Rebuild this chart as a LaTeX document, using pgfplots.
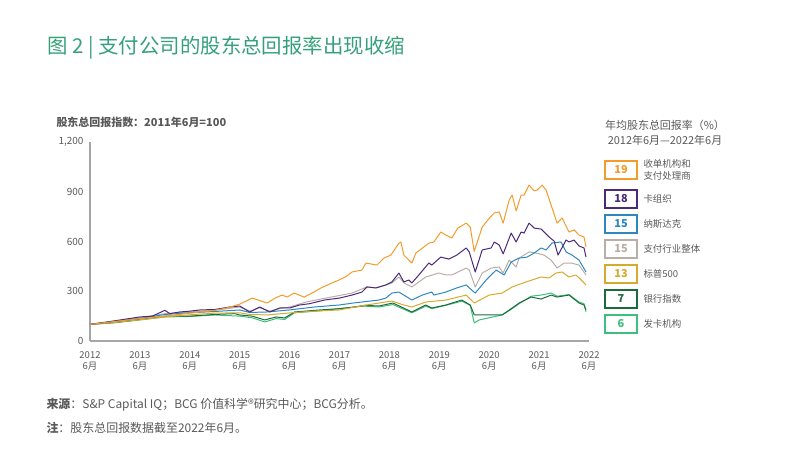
\documentclass[border=0pt]{standalone}
\usepackage{pgfplots}
\pgfplotsset{compat=1.18}
\usepackage{fontspec}
\setmainfont{Noto Sans CJK SC}

\definecolor{titlegreen}{HTML}{35A07A}
\definecolor{txtgray}{HTML}{595959}
\definecolor{axgray}{HTML}{A6A6A6}
\definecolor{cacq}{HTML}{F39C2B}
\definecolor{cnet}{HTML}{4B2A7B}
\definecolor{cnas}{HTML}{2E88C0}
\definecolor{cpay}{HTML}{B9ADA8}
\definecolor{csp}{HTML}{D6AA2C}
\definecolor{cbank}{HTML}{1D6B3A}
\definecolor{ciss}{HTML}{3DBE7A}

\begin{document}
\begin{tikzpicture}
\path (0bp,0bp) rectangle (785bp,462bp);
\begin{axis}[
  at={(90bp,121bp)}, anchor=south west,
  width=499bp, height=199bp, scale only axis,
  xmin=0, xmax=10, ymin=0, ymax=1200,
  axis x line*=bottom, axis y line*=left,
  axis line style={axgray, line width=1.5bp},
  major tick length=0pt,
  xtick={0,...,10},
  xticklabels={2012\\6月,2013\\6月,2014\\6月,2015\\6月,2016\\6月,2017\\6月,2018\\6月,2019\\6月,2020\\6月,2021\\6月,2022\\6月},
  xticklabel style={align=center, font=\fontsize{9.5}{11}\selectfont, text=txtgray, yshift=-7bp},
  ytick={0,300,600,900,1200},
  yticklabel style={font=\fontsize{10}{11}\selectfont, text=txtgray, xshift=-3bp},
  /pgf/number format/1000 sep={,},
  /pgf/number format/assume math mode=true,
  every axis plot/.append style={line width=1bp, line join=round},
  clip=false,
]
% 发卡机构
\addplot[ciss] coordinates {
(0,100)(0.5,110)(1.0,127)(1.5,145)(2.0,148)(2.5,157)(3.0,150)(3.25,140)(3.5,115)(3.73,135)(3.9,130)
(4.1,170)(4.6,182)(5.0,195)(5.3,205)(5.5,210)(5.79,205)(6.07,220)(6.45,170)(6.73,210)(6.85,195)(7.13,215)
(7.45,240)(7.62,215)(7.70,109)(7.80,127)(8.26,157)(8.46,195)(8.60,225)(8.84,270)(9.04,277)(9.24,289)
(9.36,270)(9.60,280)(9.80,235)(9.90,225)(9.94,175)};
% 银行指数
\addplot[cbank] coordinates {
(0,100)(0.5,112)(1.0,130)(1.5,150)(2.0,150)(2.5,160)(2.9,165)(3.0,157)(3.25,150)(3.5,127)(3.73,145)(3.9,139)
(4.1,175)(4.6,187)(5.0,195)(5.3,205)(5.5,215)(5.79,211)(6.07,229)(6.45,175)(6.73,217)(6.85,199)(7.13,217)
(7.45,247)(7.62,217)(7.70,157)(7.80,157)(8.26,157)(8.46,199)(8.60,229)(8.84,265)(9.04,253)(9.24,277)
(9.36,265)(9.60,277)(9.80,229)(9.90,217)(9.94,187)};
% 标普500
\addplot[csp] coordinates {
(0,100)(0.5,112)(1.0,128)(1.5,145)(2.0,158)(2.5,168)(3.0,170)(3.2,160)(3.55,157)(3.99,169)(4.5,180)
(4.99,187)(5.5,215)(5.79,229)(6.05,241)(6.29,217)(6.45,205)(6.73,235)(7.13,247)(7.54,277)(7.70,229)
(8.00,277)(8.26,289)(8.46,326)(8.74,356)(9.04,386)(9.20,380)(9.34,410)(9.46,416)(9.60,386)(9.74,398)
(9.94,338)};
% 支付行业整体
\addplot[cpay] coordinates {
(0,100)(0.5,120)(1.0,140)(1.5,165)(2.0,175)(2.5,185)(3.0,205)(3.2,180)(3.4,200)(3.6,180)(3.8,195)
(4.0,205)(4.33,235)(4.73,259)(5.25,289)(5.55,326)(5.73,320)(5.93,338)(6.05,350)(6.19,386)(6.29,350)
(6.45,326)(6.73,386)(6.99,410)(7.13,398)(7.25,398)(7.54,440)(7.60,428)(7.72,326)(7.86,410)(8.04,440)
(8.20,446)(8.28,410)(8.40,488)(8.54,446)(8.60,500)(8.80,537)(8.94,530)(9.10,518)(9.24,488)(9.36,440)
(9.50,470)(9.64,470)(9.80,458)(9.94,398)};
% 纳斯达克
\addplot[cnas] coordinates {
(0,100)(0.5,118)(1.0,135)(1.5,160)(2.0,170)(2.5,178)(3.0,187)(3.2,172)(3.55,175)(3.99,187)(4.5,205)
(4.99,217)(5.3,230)(5.79,247)(5.93,259)(6.05,289)(6.19,295)(6.29,277)(6.45,247)(6.66,277)(6.85,295)
(6.89,277)(7.13,295)(7.35,320)(7.54,338)(7.60,320)(7.72,289)(7.94,368)(8.14,428)(8.30,398)(8.44,476)
(8.60,500)(8.76,506)(8.90,530)(9.04,561)(9.14,549)(9.26,591)(9.44,597)(9.54,537)(9.66,518)(9.80,488)
(9.94,416)};
% 卡组织
\addplot[cnet] coordinates {
(0,100)(0.5,122)(1.0,145)(1.25,150)(1.5,185)(1.6,165)(1.8,175)(2.0,180)(2.2,187)(2.5,190)(2.8,205)
(3.0,211)(3.2,175)(3.4,205)(3.6,175)(3.8,199)(4.0,199)(4.2,217)(4.4,225)(4.7,247)(5.0,259)(5.25,277)
(5.45,295)(5.55,326)(5.73,320)(5.93,338)(6.05,356)(6.19,410)(6.29,356)(6.39,368)(6.45,350)(6.59,398)
(6.79,470)(6.85,458)(7.03,506)(7.19,494)(7.35,518)(7.54,561)(7.60,537)(7.72,416)(7.86,549)(8.04,561)
(8.10,597)(8.20,579)(8.28,525)(8.44,651)(8.54,597)(8.64,657)(8.70,651)(8.80,711)(8.90,681)(9.04,675)
(9.20,627)(9.30,603)(9.38,518)(9.54,609)(9.60,597)(9.70,609)(9.80,573)(9.90,561)(9.94,506)};
% 收单机构和支付处理商
\addplot[cacq] coordinates {
(0,100)(0.5,118)(1.0,135)(1.5,150)(2.0,168)(2.5,185)(2.75,200)(3.0,222)(3.25,259)(3.55,229)(3.73,262)
(3.85,277)(3.95,265)(4.09,289)(4.29,265)(4.45,289)(4.63,320)(4.85,350)(4.99,368)(5.13,388)(5.25,416)
(5.45,428)(5.53,470)(5.75,458)(5.89,500)(6.03,518)(6.19,590)(6.23,597)(6.29,518)(6.45,470)(6.53,530)
(6.79,590)(6.89,597)(7.03,657)(7.13,639)(7.25,621)(7.37,681)(7.54,711)(7.62,687)(7.70,540)(7.86,687)
(8.00,740)(8.10,772)(8.20,778)(8.28,711)(8.40,850)(8.46,880)(8.54,784)(8.64,880)(8.70,880)(8.80,940)
(8.90,905)(8.96,910)(9.06,940)(9.14,910)(9.26,802)(9.36,711)(9.46,742)(9.60,657)(9.70,670)(9.80,639)
(9.90,627)(9.94,567)};
\end{axis}

% title
\node[anchor=west, text=titlegreen, font=\fontsize{20.5}{24}\selectfont] at (44bp,414bp) {图 2 | 支付公司的股东总回报率出现收缩};
% y axis caption
\node[anchor=west, text=txtgray, font=\fontsize{11}{13}\selectfont\bfseries] at (53bp,340bp) {股东总回报指数：2011年6月=100};

% legend header
\node[align=center, text=txtgray, font=\fontsize{11}{15.5}\selectfont] at (665bp,329bp) {年均股东总回报率（\%）\\2012年6月—2022年6月};

% legend boxes
\foreach \yy/\num/\col/\lab in {292/19/cacq/{收单机构和\\支付处理商},263/18/cnet/卡组织,238/15/cnas/纳斯达克,213/15/cpay/支付行业整体,188/13/csp/标普500,163/7/cbank/银行指数,138/6/ciss/发卡机构}{
  \draw[\col, line width=1.2bp, fill=white] (605bp,\yy bp-9bp) rectangle (637bp,\yy bp+9bp);
  \node[text=\col, font=\fontsize{11}{12}\selectfont\bfseries] at (621bp,\yy bp) {\num};
  \node[anchor=west, align=left, text=txtgray, font=\fontsize{9.5}{12.5}\selectfont] at (640bp,\yy bp) {\lab};
}

% footnotes
\node[anchor=west, text=txtgray, font=\fontsize{12}{14}\selectfont] at (43bp,57bp) {\textbf{来源}：S\&P Capital IQ；BCG 价值科学®研究中心；BCG分析。};
\node[anchor=west, text=txtgray, font=\fontsize{12}{14}\selectfont] at (43bp,34bp) {\textbf{注}：股东总回报数据截至2022年6月。};
\end{tikzpicture}
\end{document}
